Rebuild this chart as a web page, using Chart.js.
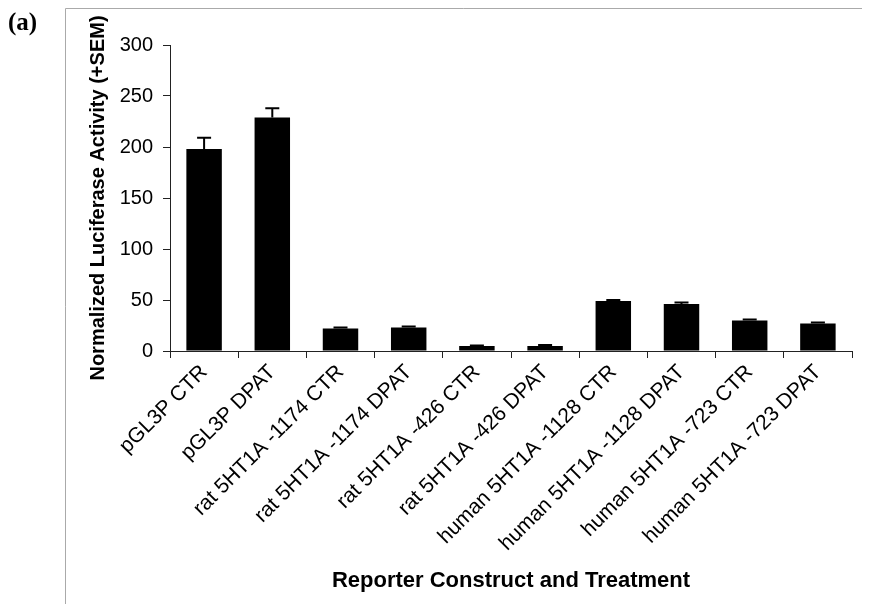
<!DOCTYPE html>
<html>
<head>
<meta charset="utf-8">
<script src="https://cdn.jsdelivr.net/npm/chart.js@4/dist/chart.umd.min.js"></script>
<style>
  html, body { margin: 0; padding: 0; background: #fff; }
  #wrap { position: relative; width: 872px; height: 604px; }
</style>
</head>
<body>
<div id="wrap"><canvas id="chart" width="872" height="604"></canvas></div>
<script>
// data
const categories = [
    'pGL3P CTR', 'pGL3P DPAT',
    'rat 5HT1A -1174 CTR', 'rat 5HT1A -1174 DPAT',
    'rat 5HT1A -426 CTR', 'rat 5HT1A -426 DPAT',
    'human 5HT1A -1128 CTR', 'human 5HT1A -1128 DPAT',
    'human 5HT1A -723 CTR', 'human 5HT1A -723 DPAT'
];
const activity = [198, 229, 22, 23, 5, 5, 49, 46, 30, 27];
const sem = [11, 9, 1, 1, 0.5, 0.8, 1, 1.5, 1, 1];
const yTicks = [0, 50, 100, 150, 200, 250, 300];

// error bars (+SEM only)
const errorBars = {
    id: 'errorBars',
    afterDatasetsDraw(chart) {
        const ctx = chart.ctx;
        const y = chart.scales.y;
        const meta = chart.getDatasetMeta(0);
        ctx.save();
        ctx.strokeStyle = '#000';
        ctx.lineWidth = 2;
        meta.data.forEach((bar, i) => {
            const top = y.getPixelForValue(activity[i] + sem[i]);
            const base = y.getPixelForValue(activity[i]);
            ctx.beginPath();
            ctx.moveTo(bar.x, base);
            ctx.lineTo(bar.x, top);
            ctx.moveTo(bar.x - 7, top);
            ctx.lineTo(bar.x + 7, top);
            ctx.stroke();
        });
        ctx.restore();
    }
};

// outer frame and panel letter
const frame = {
    id: 'frame',
    beforeDraw(chart) {
        const ctx = chart.ctx;
        ctx.save();
        ctx.strokeStyle = '#aaa';
        ctx.lineWidth = 1;
        ctx.beginPath();
        ctx.moveTo(65.5, 604);
        ctx.lineTo(65.5, 8.5);
        ctx.lineTo(862, 8.5);
        ctx.stroke();
        ctx.fillStyle = '#000';
        ctx.font = 'bold 25px "Liberation Serif", "Times New Roman", serif';
        ctx.textBaseline = 'middle';
        ctx.fillText('(a)', 8, 24);
        ctx.restore();
    }
};

const ctx = document.getElementById('chart').getContext('2d');
new Chart(ctx, {
    type: 'bar',
    data: {
        labels: categories,
        datasets: [{
            data: activity,
            backgroundColor: '#000',
            borderWidth: 0,
            categoryPercentage: 1,
            barPercentage: 0.52
        }]
    },
    options: {
        responsive: false,
        animation: false,
        layout: { padding: { left: 86, top: 45, right: 20, bottom: 6 } },
        plugins: {
            legend: { display: false },
            tooltip: { enabled: false }
        },
        scales: {
            y: {
                min: 0,
                max: 300,
                afterBuildTicks: (axis) => { axis.ticks = yTicks.map(v => ({ value: v })); },
                afterFit: (axis) => { axis.width = 84; },
                border: { color: '#222', width: 1 },
                grid: { drawOnChartArea: false, tickLength: 7, color: '#222' },
                ticks: {
                    color: '#000',
                    padding: 10,
                    font: { family: 'Liberation Sans, Arial, sans-serif', size: 20 }
                },
                title: {
                    display: true,
                    text: 'Normalized Luciferase Activity (+SEM)',
                    color: '#000',
                    padding: { top: 0, bottom: 4 },
                    font: { family: 'Liberation Sans, Arial, sans-serif', size: 20, weight: 'bold' }
                }
            },
            x: {
                afterFit: (axis) => { axis.height = 247; },
                border: { color: '#222', width: 1 },
                grid: { drawOnChartArea: false, offset: true, tickLength: 7, color: '#222' },
                ticks: {
                    color: '#000',
                    minRotation: 45,
                    maxRotation: 45,
                    padding: 2,
                    autoSkip: false,
                    font: { family: 'Liberation Sans, Arial, sans-serif', size: 21 }
                },
                title: {
                    display: true,
                    text: 'Reporter Construct and Treatment',
                    color: '#000',
                    padding: { top: 4, bottom: 4 },
                    font: { family: 'Liberation Sans, Arial, sans-serif', size: 22, weight: 'bold' }
                }
            }
        }
    },
    plugins: [frame, errorBars]
});
</script>
</body>
</html>
